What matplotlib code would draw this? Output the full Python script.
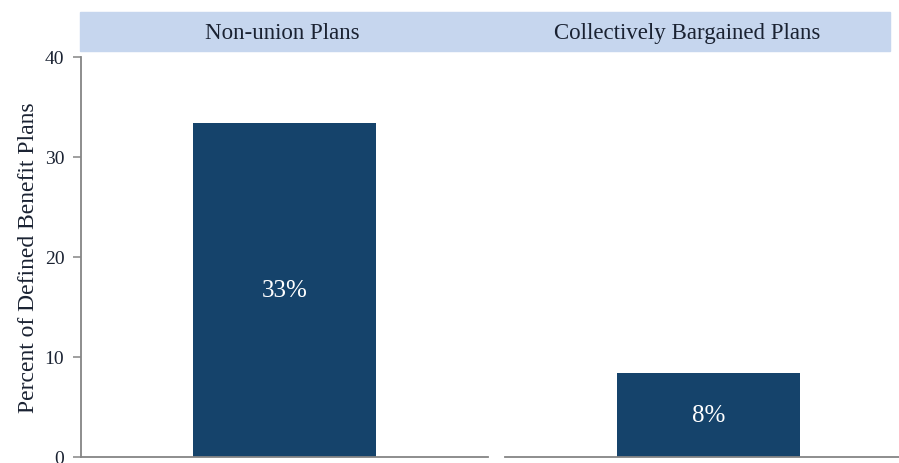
import matplotlib
matplotlib.use("Agg")
import matplotlib.pyplot as plt
from matplotlib.patches import Rectangle

plt.rcParams["font.family"] = ["Liberation Serif", "DejaVu Serif"]

# Share of defined benefit plans, by plan type
panels = ["Non-union Plans", "Collectively Bargained Plans"]
values = [33.4, 8.4]
yticks = [0, 10, 20, 30, 40]
ylabel = "Percent of Defined Benefit Plans"

W, H = 899, 464
fig = plt.figure(figsize=(W / 100, H / 100), dpi=100)

bar_color = "#15436b"
strip_color = "#c6d6ee"
axis_color = "#858585"
text_color = "#1a2232"

def fx(px):
    return px / W

def fy(py):
    return 1 - py / H

# axes boxes in pixel coordinates (left, right); y from 0-line to 40-line
y_bottom, y_top = 458, 57.5
boxes = [(81, 488), (505, 912)]

for i, ((x0, x1), val) in enumerate(zip(boxes, values)):
    ax = fig.add_axes([fx(x0), fy(y_bottom), fx(x1 - x0), (y_bottom - y_top) / H])
    ax.bar([0], [val], width=0.45, color=bar_color)
    ax.set_xlim(-0.5, 0.5)
    ax.set_ylim(0, 40)
    ax.set_xticks([])
    for s in ["top", "right"]:
        ax.spines[s].set_visible(False)
    ax.spines["bottom"].set_color(axis_color)
    ax.spines["bottom"].set_linewidth(1.3)
    if i == 0:
        ax.set_yticks(yticks)
        ax.spines["left"].set_color(axis_color)
        ax.spines["left"].set_linewidth(1.3)
        ax.tick_params(axis="y", colors=axis_color, length=6, width=1.1,
                       labelsize=14, labelcolor=text_color, pad=6)
        ax.set_ylabel(ylabel, fontsize=17, color=text_color, labelpad=4)
    else:
        ax.spines["left"].set_visible(False)
        ax.set_yticks([])
    ax.text(0, val / 2, f"{val:.0f}%", ha="center", va="center",
            fontsize=18, color="white")

# header strip spanning both panels
sx0, sx1, sy0, sy1 = 80, 890, 13, 52
fig.patches.append(Rectangle((fx(sx0), fy(sy1)), fx(sx1 - sx0), (sy1 - sy0) / H,
                             transform=fig.transFigure, color=strip_color, zorder=0))
mid = (sx0 + sx1) / 2
for cx, name in zip([(sx0 + mid) / 2, (mid + sx1) / 2], panels):
    fig.text(fx(cx), fy((sy0 + sy1) / 2 + 1), name, ha="center", va="center",
             fontsize=16.5, color=text_color)

fig.savefig("out.png", dpi=100)
